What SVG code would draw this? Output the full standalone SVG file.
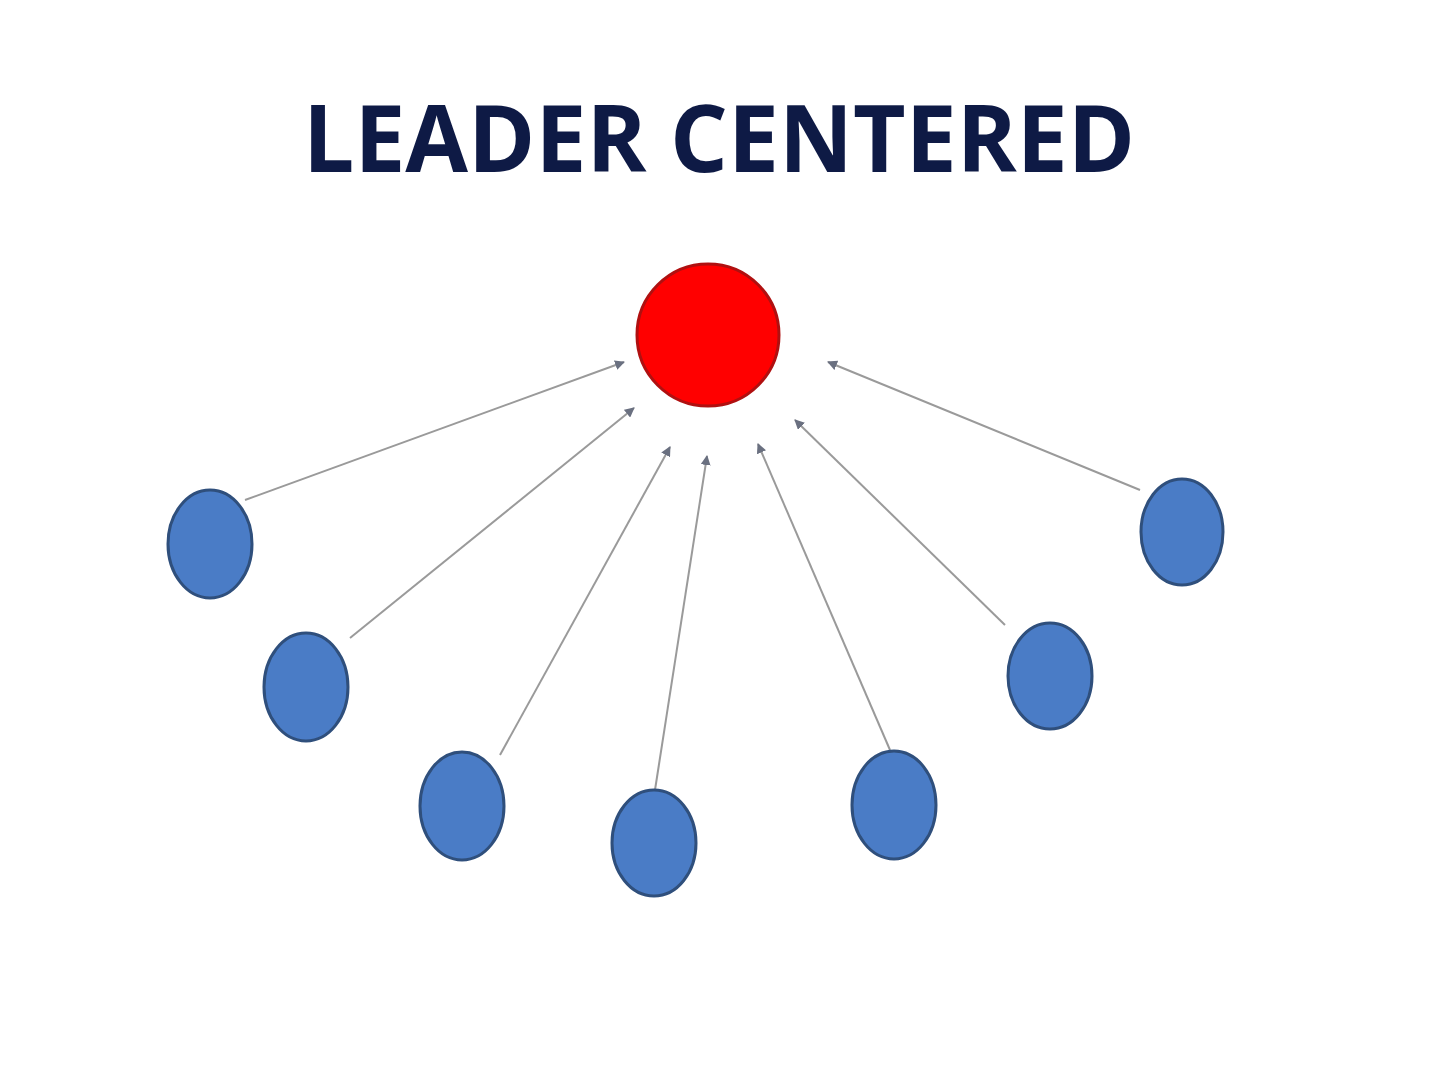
<svg xmlns="http://www.w3.org/2000/svg" width="1440" height="1078" viewBox="0 0 1440 1078">
<defs>
<style>
.title{font-family:"Open Sans","Liberation Sans",sans-serif;font-weight:700;font-size:94px;fill:#0e1a45}
.leader{fill:#ff0000;stroke:#b01010;stroke-width:3}
.member{fill:#4a7cc6;stroke:#2f4f7c;stroke-width:3}
.conn line{stroke:#9a9a9a;stroke-width:2;marker-end:url(#ah)}
</style>
<marker id="ah" viewBox="0 0 10 10" refX="9" refY="5" markerWidth="5" markerHeight="5" orient="auto" markerUnits="strokeWidth">
<path d="M0,0 L10,5 L0,10 z" fill="#6a7080"/>
</marker>
</defs>
<rect width="1440" height="1078" fill="#ffffff"/>
<text class="title" x="303" y="172" textLength="832" lengthAdjust="spacingAndGlyphs">LEADER CENTERED</text>
<g id="connectors" class="conn">
<line x1="245" y1="500" x2="624" y2="362"/>
<line x1="350" y1="638" x2="634" y2="408"/>
<line x1="500" y1="755" x2="670" y2="447"/>
<line x1="655" y1="790" x2="707" y2="456"/>
<line x1="890" y1="750" x2="758" y2="444"/>
<line x1="1005" y1="625" x2="795" y2="420"/>
<line x1="1140" y1="490" x2="828" y2="362"/>
</g>
<g id="leader"><circle class="leader" cx="708" cy="335" r="71"/></g>
<g id="member1"><ellipse class="member" cx="210" cy="544" rx="42" ry="54"/></g>
<g id="member2"><ellipse class="member" cx="306" cy="687" rx="42" ry="54"/></g>
<g id="member3"><ellipse class="member" cx="462" cy="806" rx="42" ry="54"/></g>
<g id="member4"><ellipse class="member" cx="654" cy="843" rx="42" ry="53"/></g>
<g id="member5"><ellipse class="member" cx="894" cy="805" rx="42" ry="54"/></g>
<g id="member6"><ellipse class="member" cx="1050" cy="676" rx="42" ry="53"/></g>
<g id="member7"><ellipse class="member" cx="1182" cy="532" rx="41" ry="53"/></g>
</svg>
